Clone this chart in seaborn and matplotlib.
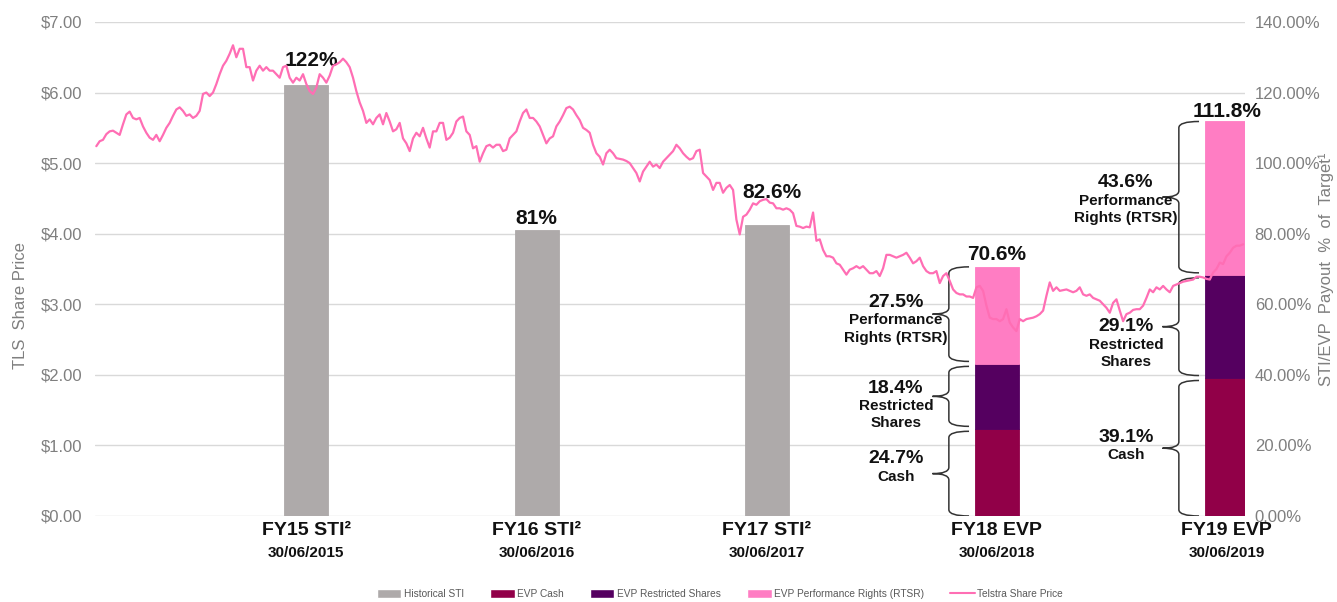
import numpy as np
import pandas as pd
import matplotlib
matplotlib.use("Agg")
import matplotlib.pyplot as plt
import matplotlib.dates as mdates
from matplotlib.path import Path
from matplotlib.patches import PathPatch, Patch
from matplotlib.lines import Line2D
from matplotlib.transforms import blended_transform_factory
import seaborn as sns

# ---------------------------------------------------------------- data
periods = ["FY15 STI²", "FY16 STI²", "FY17 STI²", "FY18 EVP", "FY19 EVP"]
period_end = ["30/06/2015", "30/06/2016", "30/06/2017", "30/06/2018", "30/06/2019"]

historical_sti = [122.0, 81.0, 82.6, 0.0, 0.0]
evp_cash = [0.0, 0.0, 0.0, 24.7, 39.1]
evp_restricted = [0.0, 0.0, 0.0, 18.4, 29.1]
evp_rtsr = [0.0, 0.0, 0.0, 27.5, 43.6]

component_names = ["Cash", "Restricted\nShares", "Performance\nRights (RTSR)"]

# Telstra (TLS) share price, evenly sampled from Aug 2014 to Jul 2019
price_start = "2014-08-01"
price_end = "2019-07-26"
share_price = [
    5.24, 5.31, 5.33, 5.41, 5.45, 5.46, 5.43, 5.40, 5.55, 5.69,
    5.73, 5.64, 5.62, 5.64, 5.52, 5.43, 5.36, 5.33, 5.40, 5.31,
    5.40, 5.50, 5.57, 5.67, 5.76, 5.79, 5.74, 5.67, 5.69, 5.64,
    5.67, 5.74, 5.98, 6.00, 5.95, 6.00, 6.12, 6.26, 6.38, 6.45,
    6.55, 6.67, 6.50, 6.62, 6.62, 6.36, 6.36, 6.17, 6.31, 6.38,
    6.31, 6.36, 6.31, 6.31, 6.26, 6.21, 6.36, 6.38, 6.21, 6.14,
    6.21, 6.17, 6.26, 6.12, 6.02, 5.98, 6.07, 6.26, 6.21, 6.14,
    6.24, 6.38, 6.40, 6.43, 6.48, 6.43, 6.36, 6.21, 6.02, 5.86,
    5.74, 5.57, 5.62, 5.55, 5.64, 5.69, 5.55, 5.71,
    5.59, 5.45, 5.48, 5.57, 5.35, 5.28, 5.17, 5.35, 5.43, 5.38,
    5.50, 5.35, 5.22, 5.45, 5.45, 5.57, 5.57, 5.33, 5.36, 5.43,
    5.59, 5.64, 5.66, 5.45, 5.40, 5.21, 5.24, 5.02, 5.14, 5.24,
    5.26, 5.22, 5.26, 5.26, 5.17, 5.19, 5.35, 5.40, 5.45, 5.59,
    5.71, 5.76, 5.64, 5.64, 5.59, 5.52, 5.40, 5.28, 5.35, 5.38,
    5.52, 5.59, 5.68, 5.78, 5.80, 5.76, 5.68, 5.61, 5.50, 5.47,
    5.43, 5.26, 5.14, 5.09, 4.98, 5.14, 5.19, 5.14, 5.07, 5.06,
    5.05, 5.03, 5.00, 4.93, 4.86, 4.74, 4.88, 4.95, 5.02, 4.95,
    4.98, 4.93, 5.02, 5.07, 5.12, 5.17, 5.26, 5.21, 5.14, 5.09,
    5.05, 5.07, 5.17,
    5.19, 4.86, 4.81, 4.76, 4.62, 4.72, 4.72, 4.58, 4.65, 4.69,
    4.62, 4.20, 3.99, 4.24, 4.27, 4.34, 4.43, 4.41, 4.46, 4.48,
    4.49, 4.44, 4.43, 4.36, 4.36, 4.34, 4.36, 4.34, 4.29, 4.11,
    4.10, 4.08, 4.10, 4.09, 4.30, 3.90, 3.92, 3.77, 3.68, 3.68,
    3.66, 3.58, 3.56, 3.49, 3.42, 3.49, 3.51, 3.54, 3.51, 3.54,
    3.49, 3.44, 3.44, 3.47, 3.40, 3.51, 3.70, 3.70, 3.68, 3.66,
    3.68, 3.70, 3.73, 3.66, 3.58, 3.61, 3.66, 3.54, 3.47, 3.44,
    3.44, 3.47, 3.30, 3.40, 3.44, 3.33, 3.21, 3.16, 3.14, 3.14,
    3.11, 3.11, 3.09,
    3.24, 3.26, 3.19, 2.98, 2.81, 2.79, 2.79, 2.76, 2.79, 2.93,
    2.74, 2.67, 2.62, 2.79, 2.76, 2.79, 2.80, 2.81, 2.83, 2.86,
    2.91, 3.12, 3.31, 3.19, 3.24, 3.19, 3.20, 3.21, 3.19, 3.17,
    3.19, 3.24, 3.14, 3.12, 3.14, 3.09, 3.07, 3.05, 3.00, 2.95,
    2.88, 3.02, 3.07, 2.91, 2.76, 2.86, 2.88, 2.92, 2.93, 2.93,
    2.98, 3.09,
    3.21, 3.17, 3.24, 3.21, 3.26, 3.21, 3.17, 3.26, 3.28, 3.30,
    3.32, 3.33, 3.34, 3.35, 3.39, 3.39, 3.38, 3.36, 3.35, 3.45,
    3.50, 3.59, 3.57, 3.68, 3.73, 3.80, 3.83, 3.83, 3.85,
]

price_ticks = [0, 1, 2, 3, 4, 5, 6, 7]
payout_ticks = [0, 20, 40, 60, 80, 100, 120, 140]

# ---------------------------------------------------------------- style
GREY = "#AEAAAA"
CASH = "#910048"
RESTR = "#550060"
RTSR = "#FF7DC3"
LINE = "#FF6EB4"
AXIS_TXT = "#7F7F7F"
GRID = "#D9D9D9"

sns.set_theme(style="white")
plt.rcParams["font.family"] = ["Liberation Sans", "DejaVu Sans"]

fig = plt.figure(figsize=(13.37, 6.02), dpi=100)
ax = fig.add_axes([0.0711, 0.1429, 0.8601, 0.8206])

# ---------------------------------------------------------------- bars (payout %)
bar_x = mdates.date2num(pd.to_datetime(period_end, dayfirst=True))
bar_w = 70  # days
seg = dict(width=bar_w, zorder=2, linewidth=0.6)
ax.bar(bar_x, historical_sti, color=GREY, edgecolor=GREY, **seg)
ax.bar(bar_x, evp_cash, color=CASH, edgecolor=CASH, **seg)
ax.bar(bar_x, evp_restricted, bottom=evp_cash, color=RESTR, edgecolor=RESTR, **seg)
ax.bar(bar_x, evp_rtsr, bottom=np.add(evp_cash, evp_restricted),
       color=RTSR, edgecolor=RTSR, **seg)

ax.set_ylim(0, 140)
ax.set_yticks(payout_ticks)
ax.set_yticklabels([f"{v:.2f}%" for v in payout_ticks])
ax.grid(axis="y", color=GRID, lw=1.0)
ax.grid(axis="x", visible=False)
ax.set_axisbelow(True)

# ---------------------------------------------------------------- share price line
ax_p = ax.twinx()
dates = pd.date_range(price_start, price_end, periods=len(share_price))
price_df = pd.DataFrame({"date": mdates.date2num(dates), "price": share_price})
sns.lineplot(data=price_df, x="date", y="price", ax=ax_p, color=LINE,
             lw=1.6, estimator=None, legend=False)
ax_p.set_ylim(0, 7)
ax_p.set_yticks(price_ticks)
ax_p.set_yticklabels([f"${v:.2f}" for v in price_ticks])
ax_p.grid(False)

# swap sides: price on the left, payout on the right
ax_p.yaxis.tick_left()
ax_p.yaxis.set_label_position("left")
ax.yaxis.tick_right()
ax.yaxis.set_label_position("right")

ax.set_xlim(mdates.date2num(pd.Timestamp("2014-07-30")),
            mdates.date2num(pd.Timestamp("2019-07-29")))
ax.tick_params(axis="x", bottom=False, labelbottom=False)
ax_p.tick_params(axis="x", bottom=False, labelbottom=False)
ax.set_xlabel("")
ax_p.set_xlabel("")

for a in (ax, ax_p):
    for s in a.spines.values():
        s.set_visible(False)
ax.tick_params(axis="y", length=0, pad=7, labelsize=12, labelcolor=AXIS_TXT)
ax_p.tick_params(axis="y", length=0, pad=9, labelsize=12, labelcolor=AXIS_TXT)

ax_p.set_ylabel("TLS  Share Price", fontsize=12, color=AXIS_TXT)
ax_p.yaxis.set_label_coords(-0.058, 0.425)
ax.set_ylabel("STI/EVP  Payout  %  of  Target¹", fontsize=12, color=AXIS_TXT)
ax.yaxis.set_label_coords(1.0635, 0.5)

# ---------------------------------------------------------------- total labels
totals = np.add(np.add(historical_sti, evp_cash), np.add(evp_restricted, evp_rtsr))
label_dx = [4, 0, 4, 0, 0]
label_dy = [11.5, 1.5, 16.5, 2, 0]
for x, tot, dx, dy in zip(bar_x, totals, label_dx, label_dy):
    ax.annotate(f"{tot:g}%", (x, tot), xytext=(dx, dy), textcoords="offset points",
                ha="center", va="bottom", fontsize=15, fontweight="bold",
                color="#111111", zorder=5)

# ---------------------------------------------------------------- braces + component labels
def draw_brace(axis, xc, y0, y1, tip=-44, spine=-76, cusp=-102, r=1.8):
    xt, xs, xk = xc + tip, xc + spine, xc + cusp
    ym = (y0 + y1) / 2
    verts = [(xt, y1), (xs, y1), (xs, y1 - r),
             (xs, ym + r), (xs, ym), (xk, ym),
             (xs, ym), (xs, ym - r),
             (xs, y0 + r), (xs, y0), (xt, y0)]
    codes = [Path.MOVETO, Path.CURVE3, Path.CURVE3,
             Path.LINETO, Path.CURVE3, Path.CURVE3,
             Path.CURVE3, Path.CURVE3,
             Path.LINETO, Path.CURVE3, Path.CURVE3]
    axis.add_patch(PathPatch(Path(verts, codes), fill=False, ec="#333333",
                             lw=1.1, zorder=3))

# vertical shift (points) of each percentage label relative to its brace tip
pct_shift = {3: [-10, -6, -9.5], 4: [-7, 0, -11.5]}
for i in (3, 4):
    parts = [evp_cash[i], evp_restricted[i], evp_rtsr[i]]
    base = 0.0
    for j, (h, name) in enumerate(zip(parts, component_names)):
        y0, y1 = base, base + h
        gap0 = 0.0 if j == 0 else 0.7
        gap1 = 0.0 if j == 2 else 0.7
        draw_brace(ax, bar_x[i], y0 + gap0, y1 - gap1)
        ym = (y0 + y1) / 2
        xt = bar_x[i] - 160
        dy = pct_shift[i][j]
        ax.annotate(f"{h:g}%", (xt, ym), xytext=(0, -dy), textcoords="offset points",
                    ha="center", va="center", fontsize=14, fontweight="bold",
                    color="#111111", zorder=4)
        ax.annotate(name, (xt, ym), xytext=(0, -dy - 8), textcoords="offset points",
                    ha="center", va="top", fontsize=11, fontweight="bold",
                    color="#111111", multialignment="center", linespacing=1.3,
                    zorder=4)
        base = y1

# ---------------------------------------------------------------- category labels
trans = blended_transform_factory(ax.transData, ax.transAxes)
for x, name, d in zip(bar_x, periods, period_end):
    ax.text(x, -0.0300, name, transform=trans, ha="center", va="center",
            fontsize=14, fontweight="bold", color="#111111")
    ax.text(x, -0.0740, d, transform=trans, ha="center", va="center",
            fontsize=11, fontweight="bold", color="#111111")

# ---------------------------------------------------------------- legend
handles = [
    Patch(facecolor=GREY, label="Historical STI"),
    Patch(facecolor=CASH, label="EVP Cash"),
    Patch(facecolor=RESTR, label="EVP Restricted Shares"),
    Patch(facecolor=RTSR, label="EVP Performance Rights (RTSR)"),
    Line2D([], [], color=LINE, lw=1.5, label="Telstra Share Price"),
]
fig.legend(handles=handles, loc="center", bbox_to_anchor=(0.5385, 0.0133),
           ncol=5, frameon=False, fontsize=7.3, handlelength=2.4,
           handleheight=1.0, columnspacing=2.6, handletextpad=0.25,
           labelcolor="#595959")

fig.savefig("out.png", dpi=100)
